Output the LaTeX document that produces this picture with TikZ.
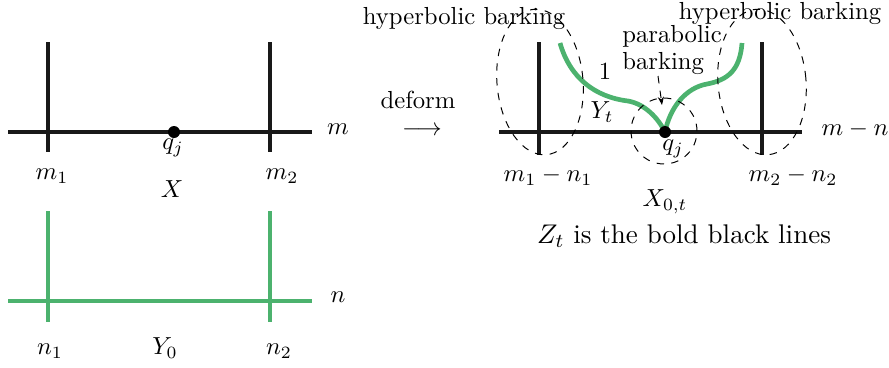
\documentclass[tikz,border=0pt]{standalone}
\usepackage{amsmath,amssymb}
\usepackage{xcolor}
\usepackage{tikz}
\usetikzlibrary{arrows.meta,shapes.geometric}

\definecolor{barkgreen}{RGB}{76,178,110}

\begin{document}
\begin{tikzpicture}[
    x=0.01425cm,y=-0.01425cm,
    blackline/.style={line width=2pt,black!90},
    greenline/.style={line width=1.9pt,barkgreen},
    dot/.style={circle,fill=black,inner sep=0pt,minimum size=0.171cm},
    barkoval/.style={ellipse,draw,dashed,line width=0.4pt,inner sep=0pt},
    dasharrow/.style={-{Stealth[scale=0.7]},dashed,line width=0.4pt},
    lbl/.style={inner sep=1pt}
]
\useasboundingbox (0,0) rectangle (889,367);

% X (top left)
\coordinate (xa) at (8,132);   \coordinate (xb) at (312,132);
\coordinate (xat) at (48,42);  \coordinate (xab) at (48,152);
\coordinate (xbt) at (270,42); \coordinate (xbb) at (270,152);
\draw[blackline] (xa) -- (xb);
\draw[blackline] (xat) -- (xab);
\draw[blackline] (xbt) -- (xbb);
\node[dot] (qj) at (174,132) {};
\node[lbl] (qjlab) at (173,148) {$q_j$};
\node[lbl] (mlab) at (338,129) {$m$};
\node[lbl] (m1) at (52,176) {$m_1$};
\node[lbl] (m2) at (282,176) {$m_2$};
\node[lbl] (xlab) at (172,189) {$X$};

% Y_0 (bottom left)
\coordinate (ya) at (8,301);   \coordinate (yb) at (312,301);
\coordinate (yat) at (48,211); \coordinate (yab) at (48,322);
\coordinate (ybt) at (270,211);\coordinate (ybb) at (270,322);
\draw[greenline] (ya) -- (yb);
\draw[greenline] (yat) -- (yab);
\draw[greenline] (ybt) -- (ybb);
\node[lbl] (nlab) at (338,297) {$n$};
\node[lbl] (n1) at (50,351) {$n_1$};
\node[lbl] (y0) at (165,348) {$Y_0$};
\node[lbl] (n2) at (279,351) {$n_2$};

% deform
\node[inner sep=0pt] (arr) at (422,131) {$\longrightarrow$};
\node[inner sep=0pt] (deform) at (418,100) {deform};

% X_{0,t} (right)
\coordinate (za) at (499,132);  \coordinate (zb) at (802,132);
\coordinate (zat) at (539,42);  \coordinate (zab) at (539,155);
\coordinate (zbt) at (762,42);  \coordinate (zbb) at (762,155);
\draw[blackline] (za) -- (zb);
\draw[blackline] (zat) -- (zab);
\draw[blackline] (zbt) -- (zbb);

\coordinate (ytl) at (560,43);
\coordinate (ytr) at (742,43);
\draw[greenline] (ytl) .. controls (570,78) and (595,97) .. (628,101)
    .. controls (645,104) and (658,118) .. (665,132);
\draw[greenline] (ytr) .. controls (740,70) and (728,80) .. (707,84)
    .. controls (685,88) and (670,108) .. (665,132);
\node[dot] (qjt) at (665,132) {};

\node[barkoval,rotate=5,minimum width=1.226cm,minimum height=2.08cm] (hypl) at (540,82) {};
\node[barkoval,rotate=5,minimum width=1.254cm,minimum height=2.08cm] (hypr) at (762,82) {};
\node[barkoval,circle,minimum size=0.94cm] (para) at (664,131) {};

\node[lbl] (hypllab) at (464,18) {hyperbolic barking};
\node[lbl] (hyprlab) at (780,13) {hyperbolic barking};
\node[lbl,align=left,font={\fontsize{10pt}{11pt}\selectfont}] (paralab) at (672,50) {parabolic\\barking};
\coordinate (paratip) at (662,105);
\draw[dasharrow] (658,76) -- (paratip);

\node[lbl] (one) at (605,72) {$1$};
\node[lbl] (yt) at (602,112) {$Y_t$};
\node[lbl] (qjtlab) at (673,149) {$q_j$};
\node[lbl] (mn) at (855,129) {$m-n$};
\node[lbl] (m1n1) at (548,176) {$m_1-n_1$};
\node[lbl] (m2n2) at (793,176) {$m_2-n_2$};
\node[lbl] (x0t) at (665,202) {$X_{0,t}$};
\node[lbl,font={\fontsize{10.95pt}{13.6pt}\selectfont}] (zt) at (684,236) {$Z_t$ is the bold black lines};
\end{tikzpicture}
\end{document}
